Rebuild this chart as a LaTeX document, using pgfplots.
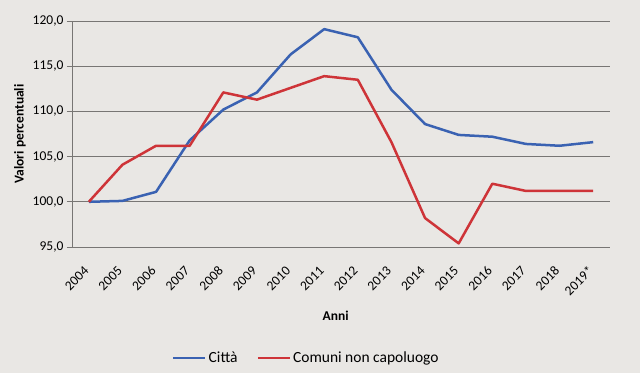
\documentclass[border=0pt]{standalone}
\usepackage{fontspec}
\setmainfont{Carlito}
\usepackage{pgfplots}
\pgfplotsset{compat=1.18}
\definecolor{bg}{RGB}{233,231,228}
\definecolor{cblue}{RGB}{58,98,178}
\definecolor{cred}{RGB}{206,52,56}
\definecolor{gridc}{RGB}{120,118,116}
\begin{document}
\begin{tikzpicture}[x=1pt,y=1pt]
\fill[bg] (-72,-126) rectangle (568,247);
\path[use as bounding box] (-72,-126) rectangle (568,247);
\begin{axis}[
  at={(0,0)}, anchor=south west,
  scale only axis, width=538pt, height=226pt,
  xmin=-0.5, xmax=15.5, ymin=95, ymax=120,
  axis x line*=bottom, axis y line*=left,
  axis line style={gridc, line width=0.8pt},
  font=\fontsize{13.5}{15}\selectfont,
  xtick={0,...,15},
  xticklabels={2004,2005,2006,2007,2008,2009,2010,2011,2012,2013,2014,2015,2016,2017,2018,2019*},
  xticklabel style={rotate=45, anchor=east, xshift=-10pt, yshift=-10pt},
  major x tick style={draw=none},
  extra x ticks={-0.5,0.5,...,15.5},
  extra x tick labels={},
  extra x tick style={grid=none, major tick length=5pt, tick style={gridc, line width=0.8pt}, tick align=outside},
  ytick={95,100,...,120},
  ymajorgrids,
  grid style={gridc, line width=0.8pt},
  y tick style={gridc, line width=0.8pt},
  tick align=outside, major tick length=5pt,
  yticklabel style={/pgf/number format/.cd, fixed, fixed zerofill, precision=1, use comma, assume math mode=true},
  ylabel={\bfseries Valori percentuali},
  ylabel style={at={(axis description cs:0,0.5)}, anchor=center, yshift=52pt},
  xlabel={\bfseries Anni},
  xlabel style={at={(axis description cs:0.49,0)}, yshift=-69pt, anchor=center},
  legend style={at={(axis description cs:0,0)}, anchor=west, xshift=97pt, yshift=-111pt, draw=none, fill=none, legend columns=2, font=\fontsize{15.5}{17}\selectfont, /tikz/every even column/.append style={column sep=17pt}},
  legend image code/.code={\draw[#1, line width=2.5pt] (0pt,0pt) -- (32pt,0pt);},
  every axis plot/.append style={line width=2.5pt, line join=round},
]
\addplot[cblue, mark=none] coordinates {
(0,100.0) (1,100.1) (2,101.1) (3,106.8) (4,110.2) (5,112.1) (6,116.3) (7,119.1)
(8,118.2) (9,112.4) (10,108.6) (11,107.4) (12,107.2) (13,106.4) (14,106.2) (15,106.6)};
\addlegendentry{Città}
\addplot[cred, mark=none] coordinates {
(0,100.0) (1,104.1) (2,106.2) (3,106.2) (4,112.1) (5,111.3) (6,112.6) (7,113.9)
(8,113.5) (9,106.6) (10,98.2) (11,95.4) (12,102.0) (13,101.2) (14,101.2) (15,101.2)};
\addlegendentry{Comuni non capoluogo}
\end{axis}
\end{tikzpicture}
\end{document}
